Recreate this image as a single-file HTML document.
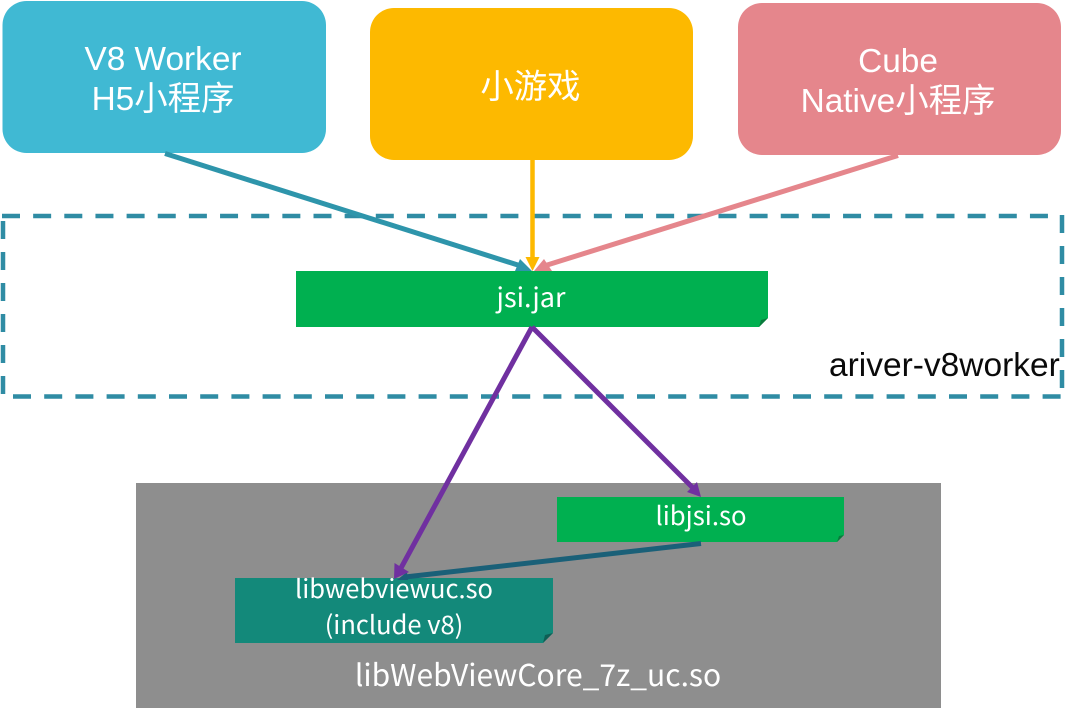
<!DOCTYPE html>
<html>
<head>
<meta charset="utf-8">
<style>
html,body{margin:0;padding:0;background:#fff;}
body{width:1080px;height:716px;overflow:hidden;position:relative;}
svg{position:absolute;left:0;top:0;display:block;}
.h{font-family:"Liberation Sans","Noto Sans CJK SC",sans-serif;}
.n{font-family:"Noto Sans CJK SC","Liberation Sans",sans-serif;}
</style>
</head>
<body>
<svg width="1080" height="716" viewBox="0 0 1080 716" xmlns="http://www.w3.org/2000/svg">
  <rect width="1080" height="716" fill="#fff"/>

  <!-- top boxes -->
  <rect x="2.5" y="1" width="323.5" height="152" rx="24" fill="#40b9d3"/>
  <rect x="370" y="8" width="323" height="152" rx="24" fill="#fdb900"/>
  <rect x="738" y="3" width="323" height="152" rx="24" fill="#e5868c"/>

  <g class="h" fill="#fff" font-size="33.4" text-anchor="middle">
    <text x="163" y="70">V8 Worker</text>
    <text x="163" y="110">H5小程序</text>
    <text x="530.5" y="98">小游戏</text>
    <text x="898" y="72">Cube</text>
    <text x="898" y="112">Native小程序</text>
  </g>

  <!-- dashed container -->
  <g stroke="#2f8ca4" stroke-width="4.5" fill="none">
    <path d="M2 216 H1050" stroke-dasharray="18 13.15"/>
    <path d="M13 396.5 H1061" stroke-dasharray="18 13.2"/>
    <path d="M3 221 V395" stroke-dasharray="18 13"/>
    <path d="M1062 215 V389" stroke-dasharray="18 13"/>
  </g>
  <text class="h" x="829" y="376" font-size="33.5" fill="#0a0a0a">ariver-v8worker</text>

  <!-- gray -->
  <rect x="136" y="483" width="805" height="225" fill="#8e8e8e"/>

  <!-- jsi.jar -->
  <path d="M296 271 H768 V318 L759 327 H296 Z" fill="#00b050"/>
  <path d="M768 318 L759 327 L761 320 Z" fill="#0a7a3c"/>
  <text class="n" x="531" y="307" font-size="27" fill="#fff" text-anchor="middle">jsi.jar</text>

  <!-- libjsi -->
  <path d="M557 497 H844 V535 L837 542 H557 Z" fill="#00b050"/>
  <path d="M844 535 L837 542 L839 536 Z" fill="#0a7a3c"/>
  <text class="n" x="701" y="525" font-size="25.7" fill="#fff" text-anchor="middle">libjsi.so</text>

  <!-- libwebviewuc -->
  <path d="M235 578 H553 V633 L543 643 H235 Z" fill="#13897a"/>
  <path d="M553 633 L543 643 L545 635 Z" fill="#0e5f55"/>
  <g class="n" fill="#fff" font-size="25.5" text-anchor="middle">
    <text x="394" y="598">libwebviewuc.so</text>
    <text x="394" y="634">(include v8)</text>
  </g>
  <text class="n" x="538" y="686" font-size="30" fill="#fff" text-anchor="middle">libWebViewCore_7z_uc.so</text>

  <!-- connectors -->
  <line x1="165" y1="153.5" x2="521" y2="266" stroke="#2e95ab" stroke-width="5"/>
  <path d="M532 271 L515 271 L520 259 Z" fill="#2e95ab"/>

  <line x1="898" y1="155.5" x2="544" y2="266" stroke="#e5868c" stroke-width="5"/>
  <path d="M534 271 L552 271 L544 259 Z" fill="#e5868c"/>

  <line x1="532.5" y1="160" x2="532.5" y2="260" stroke="#fdb900" stroke-width="4.5"/>
  <path d="M532.5 271 L525.5 257 L539.5 257 Z" fill="#fdb900"/>

  <g stroke="#7030a0" stroke-width="5" fill="none">
    <line x1="532" y1="327" x2="401" y2="568"/>
    <line x1="532" y1="327" x2="693" y2="488"/>
  </g>
  <line x1="701" y1="543.5" x2="405" y2="577" stroke="#1a6078" stroke-width="5"/>
  <path d="M397 580 L407 572 L408 580 Z" fill="#1a6078"/>
  <path d="M394 579 L394.5 563 L409 572 Z" fill="#7030a0"/>
  <path d="M701 497 L687 492 L697 482 Z" fill="#7030a0"/>
</svg>
</body>
</html>
